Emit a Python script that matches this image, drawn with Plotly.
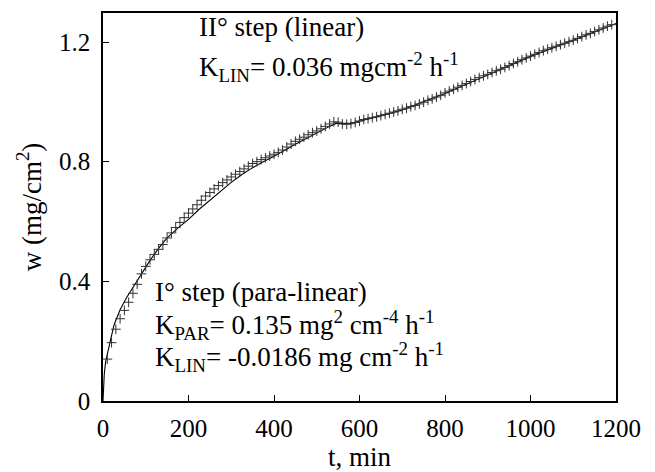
import plotly.graph_objects as go

# Measured data (t in min, w in mg/cm^2)
t_data = [10, 20, 30, 40, 50, 60, 70, 80, 90, 100, 110, 120, 130, 140, 150, 160, 170, 180, 190, 200,
          210, 220, 230, 240, 250, 260, 270, 280, 290, 300, 310, 320, 330, 340, 350, 360, 370, 380, 390, 400,
          410, 420, 430, 440, 450, 460, 470, 480, 490, 500, 510, 520, 530, 540, 550, 560, 570, 580, 590, 600,
          610, 620, 630, 640, 650, 660, 670, 680, 690, 700, 710, 720, 730, 740, 750, 760, 770, 780, 790, 800,
          810, 820, 830, 840, 850, 860, 870, 880, 890, 900, 910, 920, 930, 940, 950, 960, 970, 980, 990, 1000,
          1010, 1020, 1030, 1040, 1050, 1060, 1070, 1080, 1090, 1100, 1110, 1120, 1130, 1140, 1150, 1160, 1170, 1180, 1190]
w_data = [0.140, 0.195, 0.240, 0.275, 0.303, 0.330, 0.360, 0.390, 0.425, 0.450, 0.472, 0.490, 0.507, 0.523, 0.545, 0.562, 0.580, 0.597, 0.613, 0.628,
          0.642, 0.656, 0.671, 0.685, 0.697, 0.709, 0.720, 0.730, 0.739, 0.749, 0.758, 0.767, 0.776, 0.785, 0.794, 0.800, 0.807, 0.813, 0.819, 0.825,
          0.831, 0.839, 0.849, 0.859, 0.868, 0.875, 0.882, 0.890, 0.897, 0.903, 0.910, 0.918, 0.926, 0.933, 0.932, 0.926, 0.925, 0.927, 0.931, 0.936,
          0.941, 0.944, 0.947, 0.950, 0.954, 0.958, 0.962, 0.966, 0.970, 0.975, 0.979, 0.984, 0.988, 0.993, 0.999, 1.005, 1.010, 1.016, 1.022, 1.030,
          1.036, 1.042, 1.049, 1.055, 1.061, 1.068, 1.075, 1.081, 1.087, 1.092, 1.098, 1.104, 1.109, 1.115, 1.121, 1.128, 1.134, 1.141, 1.147, 1.153,
          1.159, 1.165, 1.171, 1.176, 1.181, 1.186, 1.191, 1.196, 1.201, 1.206, 1.212, 1.218, 1.224, 1.229, 1.235, 1.241, 1.247, 1.253, 1.258]

# Fitted curve (para-linear then linear)
t_fit = [0, 1, 3, 6, 10, 17, 26, 40, 55, 72, 90, 110, 130, 150, 175, 200, 225, 250, 275, 300, 325, 350, 375, 400, 450, 500, 530,
         545, 560, 580, 600, 650, 700, 800, 900, 1000, 1100, 1200]
w_fit = [0.0, 0.05, 0.09, 0.13, 0.16, 0.20, 0.255, 0.305, 0.345, 0.385, 0.425, 0.47, 0.51, 0.545, 0.578, 0.607, 0.641, 0.672, 0.703, 0.731, 0.757, 0.780, 0.800, 0.818, 0.858, 0.897, 0.918,
         0.928, 0.927, 0.928, 0.935, 0.953, 0.973, 1.028, 1.09, 1.152, 1.206, 1.262]

x_ticks = [0, 200, 400, 600, 800, 1000, 1200]
y_ticks = [0, 0.4, 0.8, 1.2]
y_tick_text = ["0", "0.4", "0.8", "1.2"]

FONT = "Liberation Serif"

fig = go.Figure()
fig.add_trace(go.Scatter(x=t_fit, y=w_fit, mode="lines",
                         line=dict(color="black", width=1.1), showlegend=False))
fig.add_trace(go.Scatter(x=t_data, y=w_data, mode="markers",
                         marker=dict(symbol="cross-thin", size=7, line=dict(color="#333", width=1)),
                         showlegend=False))

ann_font = dict(family=FONT, size=27, color="black")
annots = [
    (220, 1.250, "II° step (linear)"),
    (220, 1.115, "K<sub>LIN</sub>= 0.036 mgcm<sup>-2</sup> h<sup>-1</sup>"),
    (118, 0.364, "I° step (para-linear)"),
    (118, 0.254, "K<sub>PAR</sub>= 0.135 mg<sup>2</sup> cm<sup>-4</sup> h<sup>-1</sup>"),
    (118, 0.146, "K<sub>LIN</sub>= -0.0186 mg cm<sup>-2</sup> h<sup>-1</sup>"),
]
for x, y, txt in annots:
    fig.add_annotation(x=x, y=y, text=txt, showarrow=False, xanchor="left", yanchor="middle",
                       font=ann_font)

fig.update_layout(
    width=655, height=472,
    margin=dict(l=103, r=39, t=11, b=68),
    plot_bgcolor="white", paper_bgcolor="white",
    font=dict(family=FONT, size=25, color="black"),
    xaxis=dict(range=[0, 1200], tickvals=x_ticks, ticks="inside", ticklen=6, tickcolor="black",
               showline=True, linecolor="black", linewidth=1.5, mirror=True, showgrid=False, zeroline=False,
               title=dict(text="t, min", font=dict(family=FONT, size=27), standoff=0),
               tickfont=dict(family=FONT, size=25), ticklabelstandoff=4),
    yaxis=dict(range=[0, 1.297], tickvals=y_ticks, ticktext=y_tick_text, ticks="inside", ticklen=6, tickcolor="black",
               showline=True, linecolor="black", linewidth=1.5, mirror=True, showgrid=False, zeroline=False,
               title=dict(text="w (mg/cm<sup>2</sup>)", font=dict(family=FONT, size=27), standoff=10),
               tickfont=dict(family=FONT, size=25), ticklabelstandoff=6),
)

fig.write_html("out.html")
